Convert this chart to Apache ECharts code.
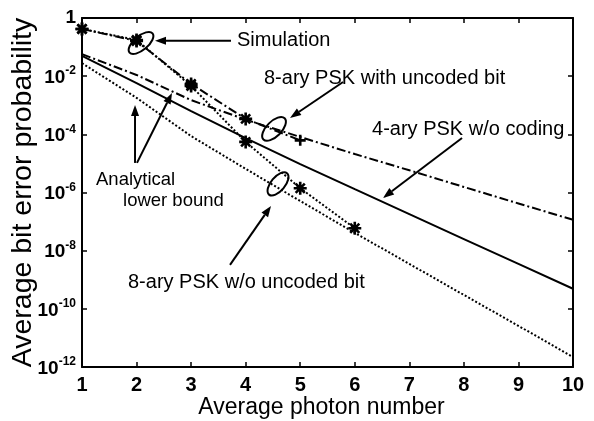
<!DOCTYPE html>
<html><head><meta charset="utf-8">
<script src="https://cdn.jsdelivr.net/npm/echarts@6/dist/echarts.min.js"></script>
<style>html,body{margin:0;padding:0;background:#fff}#c{width:594px;height:421px}</style>
</head><body><div id="c"></div>
<script>
// ---- data ----
const photonNumbers = [1, 2, 3, 4, 5, 6, 7, 8, 9, 10];
const simPhotonNoUncoded = [1, 2, 3, 4, 5, 6];
const simPhotonUncoded = [1, 2, 3, 4, 5];
// 4-ary PSK w/o coding (solid)
const psk4NoCoding = [5.0e-2, 5.8e-3, 6.3e-4, 7.4e-5, 9.5e-6, 1.3e-6, 1.8e-7, 2.5e-8, 3.5e-9, 4.9e-10];
// analytical lower bound, 8-ary PSK with uncoded bit (dash-dot)
const bound8Uncoded = [5.7e-2, 1.1e-2, 1.5e-3, 3.2e-4, 8.1e-5, 2.1e-5, 5.8e-6, 1.55e-6, 4.2e-7, 1.15e-7];
// analytical lower bound, 8-ary PSK w/o uncoded bit (dotted)
const bound8NoUncoded = [2.8e-2, 1.8e-3, 8.7e-5, 6.5e-6, 5.1e-7, 4.1e-8, 3.5e-9, 3.0e-10, 2.6e-11, 2.2e-12];
// simulation, 8-ary PSK w/o uncoded bit (dotted + asterisks)
const sim8NoUncoded = [0.42, 0.175, 4.6e-3, 5.5e-5, 1.4e-6, 5.9e-8];
// simulation, 8-ary PSK with uncoded bit (dash-dot + markers)
const sim8Uncoded = [0.42, 0.162, 5.4e-3, 3.4e-4, 6.2e-5];
const yTickExponents = [0, -2, -4, -6, -8, -10, -12];
const xTickLabels = ['1', '2', '3', '4', '5', '6', '7', '8', '9', '10'];

const FONT = "'Liberation Sans', Arial, Helvetica, sans-serif";
const ASTERISK = 'path://M6,0L6,12M0,6L12,6M1.8,1.8L10.2,10.2M1.8,10.2L10.2,1.8';
const PLUS = 'path://M6,0L6,12M0,6L12,6';
const DASHDOT = [9, 3, 2, 3];
const DOTTED = [2, 2];

const toPts = (xs, vs) => xs.map((x, i) => [x, Math.log10(vs[i])]);

const chart = echarts.init(document.getElementById('c'), null, {renderer: 'canvas'});

function baseAxisX(pos, show) {
  return {
    type: 'value', min: 1, max: 10, interval: 1, position: pos,
    axisLine: {show: true, onZero: false, lineStyle: {color: '#000', width: 2}},
    axisTick: {show: true, inside: true, length: 5, lineStyle: {color: '#000', width: 1.5}},
    splitLine: {show: false},
    axisLabel: show ? {
      show: true, margin: 8, color: '#000', fontSize: 20, fontWeight: 'bold', fontFamily: FONT,
      formatter: v => xTickLabels[v - 1]
    } : {show: false}
  };
}
function baseAxisY(pos, show) {
  return {
    type: 'value', min: -12, max: 0, interval: 2, position: pos,
    axisLine: {show: true, onZero: false, lineStyle: {color: '#000', width: 2}},
    axisTick: {show: true, inside: true, length: 5, lineStyle: {color: '#000', width: 1.5}},
    splitLine: {show: false},
    axisLabel: show ? {
      show: true, margin: 6, color: '#000', fontFamily: FONT,
      formatter: v => v === 0 ? '{one|1}' : '{b|10}{s|' + v + '}',
      rich: {
        one: {fontSize: 19, fontWeight: 'bold', fontFamily: FONT, color: '#000', lineHeight: 22},
        b: {fontSize: 19, fontWeight: 'bold', fontFamily: FONT, color: '#000', lineHeight: 22, verticalAlign: 'bottom'},
        s: {fontSize: 12, fontWeight: 'bold', fontFamily: FONT, color: '#000', lineHeight: 12, verticalAlign: 'top'}
      }
    } : {show: false}
  };
}

const xMain = baseAxisX('bottom', true);
xMain.name = 'Average photon number';
xMain.nameLocation = 'middle';
xMain.nameGap = 29;
xMain.nameMoveOverlap = false;
xMain.nameTextStyle = {fontSize: 23, fontFamily: FONT, color: '#000', padding: [0, 12, 0, 0]};
const yMain = baseAxisY('left', true);
yMain.name = 'Average bit error probability';
yMain.nameLocation = 'middle';
yMain.nameGap = 44;
yMain.nameMoveOverlap = false;
yMain.nameTextStyle = {fontSize: 28.5, fontFamily: FONT, color: '#000'};

const lineCommon = {type: 'line', xAxisIndex: 0, yAxisIndex: 0, silent: true, clip: false};

chart.setOption({
  animation: false,
  backgroundColor: '#fff',
  grid: {left: 82, right: 21, top: 18, bottom: 54, containLabel: false, outerBoundsMode: 'none'},
  xAxis: [xMain, baseAxisX('top', false)],
  yAxis: [yMain, baseAxisY('right', false)],
  series: [
    Object.assign({}, lineCommon, {
      name: '4-ary PSK w/o coding', data: toPts(photonNumbers, psk4NoCoding),
      showSymbol: false, lineStyle: {color: '#000', width: 2, type: 'solid'}
    }),
    Object.assign({}, lineCommon, {
      name: 'bound 8-ary with uncoded bit', data: toPts(photonNumbers, bound8Uncoded),
      showSymbol: false, lineStyle: {color: '#000', width: 2, type: DASHDOT}
    }),
    Object.assign({}, lineCommon, {
      name: 'bound 8-ary w/o uncoded bit', data: toPts(photonNumbers, bound8NoUncoded),
      showSymbol: false, lineStyle: {color: '#000', width: 2, type: DOTTED}
    }),
    Object.assign({}, lineCommon, {
      name: 'sim 8-ary w/o uncoded bit', data: toPts(simPhotonNoUncoded, sim8NoUncoded),
      showSymbol: true, showAllSymbol: true, symbol: ASTERISK, symbolSize: 13,
      itemStyle: {color: '#000', borderColor: '#000', borderWidth: 2.6},
      lineStyle: {color: '#000', width: 2, type: DOTTED}
    }),
    Object.assign({}, lineCommon, {
      name: 'sim 8-ary with uncoded bit',
      data: toPts(simPhotonUncoded, sim8Uncoded).map((p, i) =>
        i === simPhotonUncoded.length - 1 ? {value: p, symbol: PLUS, symbolSize: 11} : {value: p}),
      showSymbol: true, showAllSymbol: true, symbol: ASTERISK, symbolSize: 13,
      itemStyle: {color: '#000', borderColor: '#000', borderWidth: 2.6},
      lineStyle: {color: '#000', width: 2, type: DASHDOT}
    })
  ]
});

// ---- annotations (positions in data coordinates: [photon number, log10 probability]) ----
const px = p => chart.convertToPixel({gridIndex: 0}, p);
const texts = [
  {t: 'Simulation', at: [3.841, -0.756], size: 20},
  {t: '8-ary PSK with uncoded bit', at: [4.336, -2.096], size: 20},
  {t: '4-ary PSK w/o coding', at: [6.316, -3.849], size: 20},
  {t: 'Analytical', at: [1.257, -5.567], size: 18.5},
  {t: 'lower bound', at: [1.752, -6.289], size: 18.5},
  {t: '8-ary PSK w/o uncoded bit', at: [1.843, -9.107], size: 20}
];
const arrows = [
  [[3.731, -0.780], [2.338, -0.780]],
  [[5.785, -2.199], [4.813, -3.436]],
  [[7.966, -4.124], [6.518, -6.186]],
  [[1.972, -4.983], [1.972, -2.990]],
  [[2.008, -4.983], [2.650, -2.577]],
  [[3.713, -8.488], [4.465, -6.460]]
];
const loops = [
  {at: [2.082, -0.859], rx: 15, ry: 7, rot: 40},
  {at: [4.520, -3.814], rx: 15, ry: 7.5, rot: 45},
  {at: [4.593, -5.704], rx: 14, ry: 7, rot: 50}
];
const g = [];
texts.forEach(o => {
  const p = px(o.at);
  g.push({type: 'text', x: p[0], y: p[1], silent: true, style: {
    text: o.t, fontSize: o.size, fontFamily: FONT, fill: '#000',
    align: 'left', verticalAlign: 'middle', textAlign: 'left', textVerticalAlign: 'middle'}});
});
arrows.forEach(a => {
  const p0 = px(a[0]), p1 = px(a[1]);
  const dx = p1[0] - p0[0], dy = p1[1] - p0[1], L = Math.hypot(dx, dy);
  const ux = dx / L, uy = dy / L, hl = 11, hw = 4;
  const b = [p1[0] - ux * hl, p1[1] - uy * hl];
  g.push({type: 'line', silent: true, shape: {x1: p0[0], y1: p0[1], x2: b[0], y2: b[1]},
    style: {stroke: '#000', lineWidth: 2}});
  g.push({type: 'polygon', silent: true,
    shape: {points: [p1, [b[0] - uy * hw, b[1] + ux * hw], [b[0] + uy * hw, b[1] - ux * hw]]},
    style: {fill: '#000'}});
});
loops.forEach(l => {
  const p = px(l.at);
  g.push({type: 'ellipse', silent: true, x: p[0], y: p[1], rotation: l.rot * Math.PI / 180,
    shape: {cx: 0, cy: 0, rx: l.rx, ry: l.ry}, style: {fill: 'none', stroke: '#000', lineWidth: 2}});
});
chart.setOption({graphic: g});
</script>
</body></html>
